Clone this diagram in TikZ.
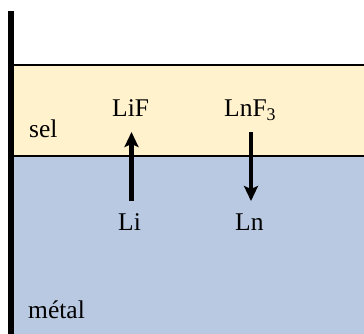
\documentclass[tikz,border=0pt]{standalone}
\usepackage{fontspec}
\setmainfont{Liberation Serif}
\usetikzlibrary{arrows.meta}
\definecolor{saltfill}{HTML}{FFF2CC}
\definecolor{metalfill}{HTML}{B8C9E1}
\tikzset{
  lbl/.style={font=\fontsize{25.5}{30}\selectfont, inner sep=0pt, anchor=base west},
  flux/.style={line width=4.5pt, -{Stealth[length=15pt,width=14pt,inset=3pt]}},
  iface/.style={line width=1.3pt}
}
\begin{document}
\begin{tikzpicture}[x=1pt,y=-1pt]
  \useasboundingbox (0,0) rectangle (364,334);
  % layers: salt on top of the metal
  \fill[saltfill] (14,65) rectangle (364,156);
  \fill[metalfill] (14,156) rectangle (364,334);
  \draw[iface] (14,65) -- (364,65);
  \draw[iface] (14,156) -- (364,156);
  % crucible wall
  \fill[black] (8,11) rectangle (14,334);
  % species
  \node[lbl] (lif) at (112,117) {LiF};
  \node[lbl] (lnf) at (224,117) {LnF\textsubscript{3}};
  \node[lbl] (li) at (118,230) {Li};
  \node[lbl] (ln) at (235,230) {Ln};
  \node[lbl] (sel) at (29,138) {sel};
  \node[lbl] (metal) at (28,318) {métal};
  % exchange fluxes
  \coordinate (lis) at (131.5,201);
  \coordinate (lit) at (131.5,132);
  \coordinate (lns) at (251,132);
  \coordinate (lnt) at (251,201);
  \draw[flux] (lis) -- (lit);
  \draw[flux] (lns) -- (lnt);
\end{tikzpicture}
\end{document}
